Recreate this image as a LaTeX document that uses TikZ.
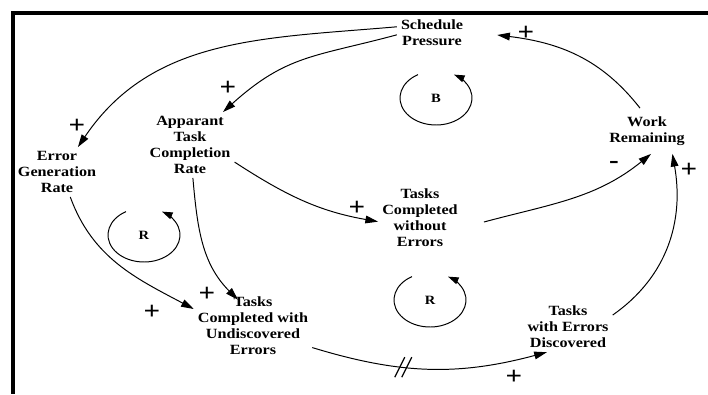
\documentclass[tikz,border=0pt]{standalone}
\usepackage{fontspec}
\setmainfont{Liberation Serif}[FakeStretch=1.15]
\usetikzlibrary{arrows.meta}
\begin{document}
\begin{tikzpicture}[x=0.025cm,y=0.025cm,
  varbox/.style={align=center,inner sep=1pt,outer sep=2pt,font=\fontsize{10}{11.4}\selectfont\bfseries},
  cause/.style={line width=0.7pt,-{Triangle[length=9pt,width=5.5pt]}},
  sign/.style={inner sep=0pt,font=\fontsize{18}{18}\selectfont\bfseries},
  looparc/.style={line width=0.7pt,-{Triangle[length=7.5pt,width=5pt]}},
  looplabel/.style={font=\fontsize{9}{9}\selectfont\bfseries}]
\useasboundingbox (0,0) rectangle (708,-394);
% frame
\draw[line width=3pt] (708,-13) -- (13,-13) -- (13,-394);
% variables
\node[varbox] (sp) at (432,-33) {Schedule\\Pressure};
\node[varbox] (atcr) at (190,-145) {Apparant\\Task\\Completion\\Rate};
\node[varbox] (egr) at (57,-172) {Error\\Generation\\Rate};
\node[varbox] (tcwoe) at (420,-218) {Tasks\\Completed\\without\\Errors};
\node[varbox,outer sep=5pt] (wr) at (647,-131) {Work\\Remaining};
\node[varbox] (tcwue) at (253,-326) {Tasks\\Completed with\\Undiscovered\\Errors};
\node[varbox] (twed) at (568,-327) {Tasks\\with Errors\\Discovered};
% links
\draw[cause] (sp.170) to[out=185,in=56] (egr.50);
\draw[cause] (sp.183) to[out=195,in=42,looseness=1.15] (atcr.45);
\draw[cause] (atcr.-21) to[out=-33,in=170] (tcwoe.185);
\draw[cause] (atcr.-85) to[out=-85,in=135] ([shift={(-15,-7)}]tcwue.north);
\draw[cause] (egr.-62) to[out=-70,in=152] (tcwue.164);
\draw[cause] (tcwue.-20) to[out=-17,in=195] coordinate[pos=0.38] (dly) (twed.230);
\draw[cause] (twed.15) to[out=35,in=-80] (wr.-42);
\draw[cause] ([shift={(22,-4)}]tcwoe.east) to[out=15,in=219] (wr.-80);
\draw[cause] (wr.107) to[out=128,in=-7] ([shift={(30,-2)}]sp.east);
% delay
\foreach \dx in {-3,4}
  \draw[line width=0.9pt] (dly) ++(\dx-5,-10) -- ++(10,20);
% polarities
\foreach \x/\y [count=\i] in {77/126,228/88,357/208,207/294,152/312,514/377,689/170,526/33}
  \node[sign] (p\i) at (\x,-\y) {+};
\node[sign] (m1) at (614,-165) {-};
% loops
\node[looplabel] (lb) at (436,-98) {B};
\draw[looparc] (lb.center) ++(120:36 and 27) arc[start angle=120,end angle=420,x radius=36,y radius=27];
\node[looplabel] (lr1) at (144,-235) {R};
\draw[looparc] (lr1.center) ++(120:36 and 27) arc[start angle=120,end angle=420,x radius=36,y radius=27];
\node[looplabel] (lr2) at (430,-300) {R};
\draw[looparc] (lr2.center) ++(120:36 and 27) arc[start angle=120,end angle=420,x radius=36,y radius=27];
\end{tikzpicture}
\end{document}
